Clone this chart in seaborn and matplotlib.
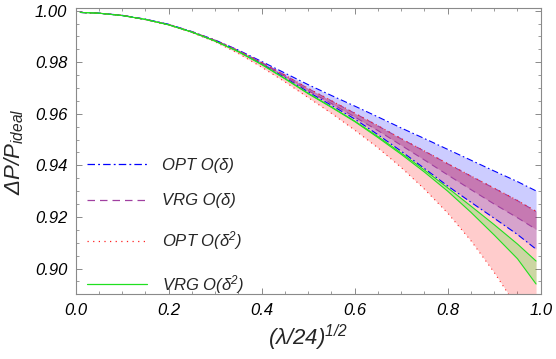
import numpy as np
import pandas as pd
import matplotlib
matplotlib.use("Agg")
import matplotlib.pyplot as plt
from matplotlib.lines import Line2D
from matplotlib.ticker import MultipleLocator, FormatStrFormatter
import seaborn as sns

# values at these x positions
x = [0.01, 0.05, 0.1, 0.15, 0.2, 0.25, 0.3, 0.35, 0.4, 0.45, 0.5, 0.55,
     0.6, 0.65, 0.7, 0.75, 0.8, 0.85, 0.9, 0.95, 0.99]
opt1_hi = [0.9993, 0.9990, 0.9982, 0.9967, 0.9947, 0.9919, 0.9886, 0.9847, 0.9803, 0.9758, 0.9713, 0.9671,
           0.9630, 0.9588, 0.9545, 0.9504, 0.9462, 0.9420, 0.9378, 0.9337, 0.9301]
opt1_lo = [0.9993, 0.9990, 0.9981, 0.9966, 0.9946, 0.9917, 0.9883, 0.9843, 0.9794, 0.9741, 0.9685, 0.9633,
           0.9580, 0.9519, 0.9455, 0.9388, 0.9320, 0.9257, 0.9195, 0.9132, 0.9075]
vrg1_hi = [0.9993, 0.9990, 0.9982, 0.9966, 0.9946, 0.9918, 0.9885, 0.9845, 0.9799, 0.9750, 0.9698, 0.9650,
           0.9602, 0.9553, 0.9503, 0.9455, 0.9406, 0.9358, 0.9311, 0.9263, 0.9221]
vrg1_lo = [0.9993, 0.9990, 0.9982, 0.9966, 0.9946, 0.9918, 0.9884, 0.9844, 0.9796, 0.9745, 0.9690, 0.9640,
           0.9588, 0.9535, 0.9478, 0.9421, 0.9363, 0.9306, 0.9250, 0.9197, 0.9152]
opt2_hi = [0.9993, 0.9990, 0.9982, 0.9966, 0.9946, 0.9918, 0.9885, 0.9845, 0.9799, 0.9750, 0.9699, 0.9651,
           0.9603, 0.9554, 0.9504, 0.9456, 0.9407, 0.9359, 0.9312, 0.9264, 0.9222]
opt2_lo = [0.9993, 0.9990, 0.9981, 0.9965, 0.9944, 0.9915, 0.9879, 0.9834, 0.9781, 0.9724, 0.9663, 0.9602,
           0.9537, 0.9468, 0.9392, 0.9308, 0.9215, 0.9108, 0.8985, 0.8848, 0.8730]
vrg2_hi = [0.9993, 0.9990, 0.9981, 0.9966, 0.9945, 0.9917, 0.9882, 0.9841, 0.9792, 0.9737, 0.9680, 0.9627,
           0.9572, 0.9512, 0.9448, 0.9382, 0.9313, 0.9242, 0.9170, 0.9095, 0.9029]
vrg2_lo = [0.9993, 0.9990, 0.9981, 0.9966, 0.9945, 0.9917, 0.9882, 0.9841, 0.9791, 0.9736, 0.9678, 0.9625,
           0.9570, 0.9508, 0.9443, 0.9374, 0.9300, 0.9218, 0.9130, 0.9038, 0.8940]

labels = ["OPT O(δ)", "VRG O(δ)", "OPT O(δ$^2$)", "VRG O(δ$^2$)"]
bands = [(opt1_lo, opt1_hi), (vrg1_lo, vrg1_hi), (opt2_lo, opt2_hi), (vrg2_lo, vrg2_hi)]

line_cols = ["#0000ff", "#a040a0", "#ff2020", "#20e020"]
fill_cols = ["#0000ff", "#800080", "#ff0000", "#00ff00"]
fill_alpha = [0.2, 0.25, 0.2, 0.2]
dash_pat = [(6, 2.5, 1.5, 2.5), (6, 4), (1, 3.5), ""]

sns.set_style("ticks")
plt.rcParams['font.family'] = ['Liberation Sans', 'DejaVu Sans']
plt.rcParams['font.style'] = 'italic'
plt.rcParams['mathtext.fontset'] = 'custom'
plt.rcParams['mathtext.rm'] = 'Liberation Sans:italic'
plt.rcParams['mathtext.it'] = 'Liberation Sans:italic'

rows = []
for lab, (lo, hi) in zip(labels, bands):
    for xi, a, b in zip(x, lo, hi):
        rows.append((lab + " lo", lab, xi, a))
        rows.append((lab + " hi", lab, xi, b))
df = pd.DataFrame(rows, columns=["curve", "model", "x", "y"])

fig = plt.figure(figsize=(5.56, 3.59), dpi=100)
ax = fig.add_axes([0.1358, 0.1802, 0.8367, 0.7967])

for lab, (lo, hi), fc, fa in zip(labels, bands, fill_cols, fill_alpha):
    ax.fill_between(x, lo, hi, color=fc, alpha=fa, linewidth=0)

for lab, lc, dp in zip(labels, line_cols, dash_pat):
    sub = df[df.model == lab]
    for cname in sub.curve.unique():
        sns.lineplot(data=sub[sub.curve == cname], x="x", y="y", color=lc,
                     linewidth=0.8, ax=ax, legend=False,
                     estimator=None, sort=True)
        if dp:
            ax.lines[-1].set_dashes(dp)

ax.set_xlim(0, 1.0)
ax.set_ylim(0.89, 1.0009)
ax.xaxis.set_major_locator(MultipleLocator(0.2))
ax.xaxis.set_minor_locator(MultipleLocator(0.05))
ax.yaxis.set_major_locator(MultipleLocator(0.02))
ax.yaxis.set_minor_locator(MultipleLocator(0.005))
ax.xaxis.set_major_formatter(FormatStrFormatter('%.1f'))
ax.yaxis.set_major_formatter(FormatStrFormatter('%.2f'))

for s in ax.spines.values():
    s.set_color("#8a8a8a")
    s.set_linewidth(0.8)
    s.set_visible(True)
ax.tick_params(which="both", direction="in", top=True, right=True, color="#8a8a8a",
               labelsize=12, labelcolor="black")
ax.tick_params(which="major", length=4.5, width=0.7, pad=6)
ax.tick_params(which="minor", length=2.5, width=0.6)

ax.set_xlabel(r"$(\lambda/24)^{1/2}$", fontsize=16, labelpad=4)
ax.set_ylabel(r"$\Delta P/P_{ideal}$", fontsize=16, labelpad=6)

handles = [Line2D([0], [0], color=lc, lw=0.9) for lc in line_cols]
for h, dp in zip(handles, dash_pat):
    if dp:
        h.set_dashes(dp)
ax.legend(handles, labels, loc="upper left", bbox_to_anchor=(0.0247, 0.478),
          frameon=False, fontsize=12, handlelength=3.6, handletextpad=0.9,
          labelspacing=1.25, borderpad=0, borderaxespad=0)

fig.savefig("out.png", dpi=100)
